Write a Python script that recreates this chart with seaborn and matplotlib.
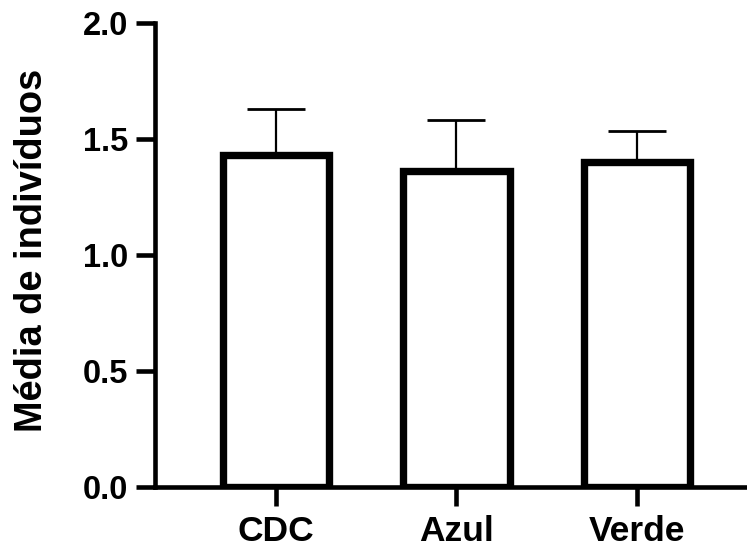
import matplotlib
matplotlib.use("Agg")
import matplotlib.pyplot as plt
import seaborn as sns
import pandas as pd

categories = ["CDC", "Azul", "Verde"]
means = [1.43, 1.36, 1.40]
errors_up = [0.20, 0.22, 0.135]
yticks = [0.0, 0.5, 1.0, 1.5, 2.0]
ylabel = "Média de indivíduos"

sns.set_style("ticks")
plt.rcParams["font.family"] = ["Liberation Sans", "DejaVu Sans"]
plt.rcParams["font.weight"] = "bold"
plt.rcParams["text.color"] = "black"
plt.rcParams["axes.labelcolor"] = "black"
plt.rcParams["xtick.color"] = "black"
plt.rcParams["ytick.color"] = "black"
plt.rcParams["axes.edgecolor"] = "black"

df = pd.DataFrame({"grupo": categories, "media": means})

fig = plt.figure(figsize=(7.47, 5.5), dpi=100)
ax = fig.add_axes([0.2075, 0.1145, 0.7925, 0.8442])

ax.errorbar(range(len(categories)), means, yerr=[[0] * len(errors_up), errors_up],
            fmt="none", ecolor="black", elinewidth=1.6, capsize=21, capthick=2.0, zorder=1)
sns.barplot(data=df, x="grupo", y="media", order=categories, color="white",
            edgecolor="black", linewidth=5.3, width=0.59, errorbar=None, ax=ax, zorder=2,
            saturation=1)

ax.set_xlim(-0.67, 2.61)
ax.set_ylim(0, 2.0)
ax.set_yticks(yticks)
ax.set_yticklabels([f"{v:.1f}" for v in yticks])
ax.set_xlabel("")
ax.set_ylabel(ylabel, fontsize=27.4, fontweight="bold", color="black")
ax.yaxis.set_label_coords(-0.178, 0.509)

for s in ["top", "right"]:
    ax.spines[s].set_visible(False)
for s in ["left", "bottom"]:
    ax.spines[s].set_linewidth(3.3)
    ax.spines[s].set_color("black")
    ax.spines[s].set_capstyle("projecting")

ax.tick_params(axis="both", width=3.3, length=14, color="black", labelcolor="black")
ax.tick_params(axis="y", labelsize=23.5, pad=5)
ax.tick_params(axis="x", labelsize=25.5, pad=6)
for lab in ax.get_xticklabels() + ax.get_yticklabels():
    lab.set_fontweight("bold")

fig.savefig("out.png", dpi=100)
